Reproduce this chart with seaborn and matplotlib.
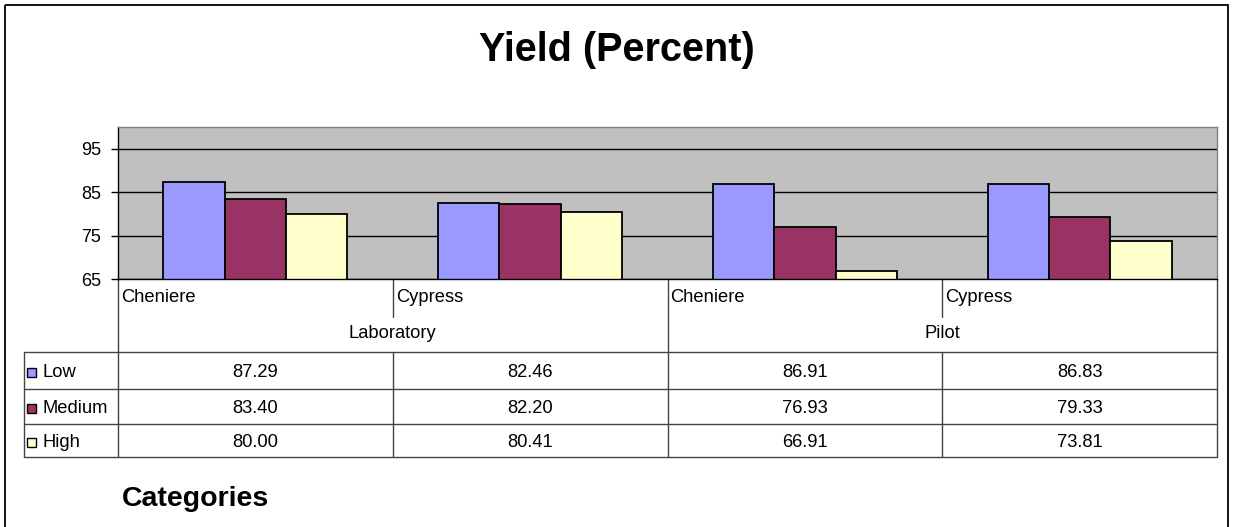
import matplotlib
matplotlib.use("Agg")
import matplotlib.pyplot as plt
import seaborn as sns
import pandas as pd
from matplotlib.patches import Rectangle

# ---- data ----
groups = ["Laboratory", "Pilot"]
varieties = ["Cheniere", "Cypress"]
series = ["Low", "Medium", "High"]
low = [87.29, 82.46, 86.91, 86.83]
medium = [83.40, 82.20, 76.93, 79.33]
high = [80.00, 80.41, 66.91, 73.81]
yticks = [65, 75, 85, 95]
colors = ["#9999FF", "#993366", "#FFFFCC"]

cats = [f"{g}|{v}" for g in groups for v in varieties]
vals = {"Low": low, "Medium": medium, "High": high}
rows = []
for s in series:
    for c, v in zip(cats, vals[s]):
        rows.append({"cat": c, "series": s, "value": v})
df = pd.DataFrame(rows)

sns.set_theme(style="white")
plt.rcParams["font.family"] = ["Liberation Sans", "DejaVu Sans"]
plt.rcParams["text.color"] = "black"
plt.rcParams["ytick.color"] = "black"
plt.rcParams["xtick.color"] = "black"
plt.rcParams["axes.labelcolor"] = "black"

W, H = 1233, 527
fig = plt.figure(figsize=(W / 100, H / 100), dpi=100)

# overlay in pixel coordinates
ov = fig.add_axes([0, 0, 1, 1], zorder=0)
ov.set_xlim(0, W)
ov.set_ylim(H, 0)
ov.axis("off")

L, R, T, B = 118, 1217, 127, 279
ax = fig.add_axes([L / W, (H - B) / H, (R - L) / W, (B - T) / H], zorder=1)
sns.barplot(data=df, x="cat", y="value", hue="series", hue_order=series,
            palette=colors, order=cats, width=0.67, saturation=1,
            edgecolor="black", linewidth=1.3, ax=ax, legend=False)
ax.set_facecolor("#C0C0C0")
ax.set_ylim(65, 100)
ax.set_xlim(-0.5, 3.5)
ax.set_yticks(yticks)
ax.set_yticklabels([str(t) for t in yticks], fontsize=13, color="black")
ax.set_xticks([])
ax.set_xlabel("")
ax.set_ylabel("")
ax.tick_params(axis="y", length=5, width=1, color="black", left=True, pad=7)
for t in yticks:
    ax.axhline(t, color="black", lw=1, zorder=0.5)
ax.spines["left"].set_color("black")
ax.spines["bottom"].set_color("black")
ax.spines["top"].set_color("#808080")
ax.spines["right"].set_color("#808080")
for sp in ax.spines.values():
    sp.set_linewidth(1)

# outer chart border
ov.add_patch(Rectangle((5, 5), 1223, 530, fill=False, ec="black", lw=1.3))

# title & axis title
ov.text(617, 50, "Yield (Percent)", ha="center", va="center",
        fontsize=28.5, fontweight="bold", color="black")
ov.text(122, 499, "Categories", ha="left", va="center",
        fontsize=20.5, fontweight="bold", color="black")

colw = (R - L) / len(cats)
lc = "#444444"
# category axis
for i in range(len(cats) + 1):
    x = L + i * colw
    if i % 2 == 0:
        ov.plot([x, x], [B, 352], color=lc, lw=1)
    else:
        ov.plot([x, x], [B, 317], color=lc, lw=1)
for i, c in enumerate(cats):
    ov.text(L + i * colw + 3, 297, c.split("|")[1], ha="left", va="center",
            fontsize=13.2, color="black")
for gi, g in enumerate(groups):
    ov.text(L + (2 * gi + 1) * colw, 333, g, ha="center", va="center",
            fontsize=13.2, color="black")

# data table
tl, tt = 24, 352
row_edges = [352, 389, 424, 457]
for y in row_edges:
    ov.plot([tl, R], [y, y], color=lc, lw=1)
ov.plot([tl, tl], [tt, row_edges[-1]], color=lc, lw=1)
for i in range(len(cats) + 1):
    x = L + i * colw
    ov.plot([x, x], [tt, row_edges[-1]], color=lc, lw=1)
for r, s in enumerate(series):
    yc = (row_edges[r] + row_edges[r + 1]) / 2 + 2
    ov.add_patch(Rectangle((27, yc - 4.5), 9, 9, fc=colors[r], ec="black", lw=1))
    ov.text(42, yc, s, ha="left", va="center", fontsize=13.2, color="black")
    for i, v in enumerate(vals[s]):
        ov.text(L + (i + 0.5) * colw, yc, f"{v:.2f}", ha="center", va="center",
                fontsize=13.2, color="black")

fig.savefig("out.png", dpi=100, facecolor="white")
